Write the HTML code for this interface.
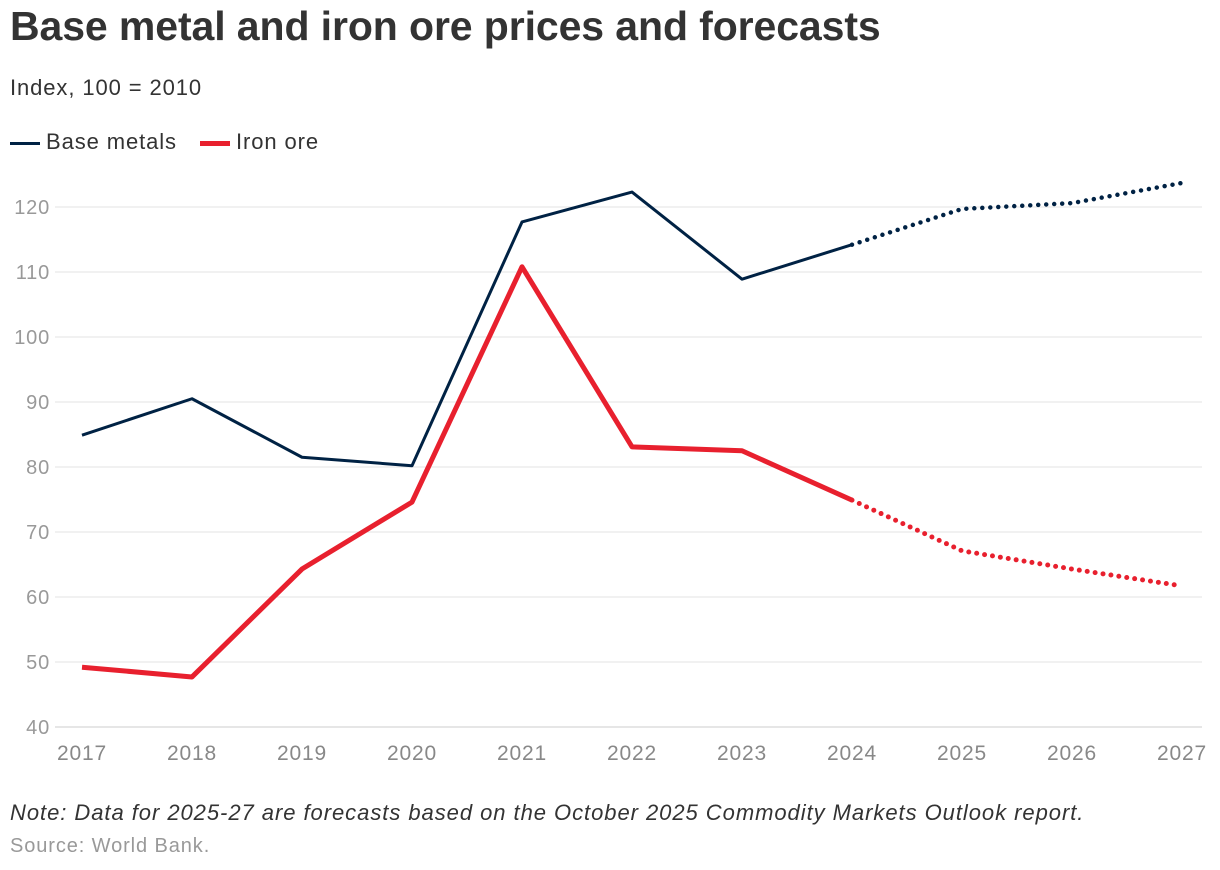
<!DOCTYPE html>
<html><head><meta charset="utf-8"><style>
body{margin:0;width:1220px;height:870px;background:#fff;font-family:"Liberation Sans",sans-serif;overflow:hidden;position:relative}
.t{position:absolute;left:10px;white-space:nowrap}
</style></head><body>
<div class="t" style="top:3px;font-size:41px;color:#333;letter-spacing:-0.1px;font-weight:bold">Base metal and iron ore prices and forecasts</div>
<div class="t" style="top:75px;font-size:22px;color:#333;letter-spacing:0.9px">Index, 100 = 2010</div>
<div class="t" style="top:129px;font-size:22px;color:#333;letter-spacing:0.9px">
<span><span style="display:inline-block;width:30px;height:3px;background:#002244;vertical-align:middle;margin-right:6px"></span>Base metals</span>
<span style="margin-left:16px"><span style="display:inline-block;width:30px;height:5px;background:#e8202e;vertical-align:middle;margin-right:6px"></span>Iron ore</span>
</div>
<div class="t" style="top:800px;font-size:22px;color:#333;font-style:italic;letter-spacing:0.95px">Note: Data for 2025-27 are forecasts based on the October 2025 Commodity Markets Outlook report.</div>
<div class="t" style="top:835px;font-size:20px;color:#999;letter-spacing:0.9px">Source: World Bank.</div>
<svg id="chart" width="1220" height="870" style="position:absolute;left:0;top:0"></svg>
<script>
const years=[2017,2018,2019,2020,2021,2022,2023,2024,2025,2026,2027];
const baseMetals=[84.9,90.5,81.5,80.2,117.7,122.3,108.9,114.2,119.7,120.6,123.7];
const ironOre=[49.2,47.7,64.3,74.6,110.8,83.1,82.5,74.9,67.1,64.3,61.7];
const yTicks=[40,50,60,70,80,90,100,110,120];
const forecastStart=2024;
const NS="http://www.w3.org/2000/svg";
const svg=document.getElementById('chart');
const x=v=>82+(v-2017)*110;
const y=v=>727-(v-40)*6.5;
function mk(t,a){const e=document.createElementNS(NS,t);for(const k in a)e.setAttribute(k,a[k]);svg.appendChild(e);return e;}
yTicks.forEach(v=>{
  const l=mk('line',{x1:55,x2:1202,y1:y(v),y2:y(v),stroke:v===40?'#ccc':'#e3e3e3','stroke-width':1});
  
  
  const t=mk('text',{x:50,y:y(v)+7,'text-anchor':'end','font-size':20,fill:'#999','letter-spacing':'0.8','font-family':'Liberation Sans, sans-serif'});
  t.textContent=v;
  
  
});
years.forEach(yr=>{
  const t=mk('text',{x:x(yr),y:760,'text-anchor':'middle','font-size':21,fill:'#888','letter-spacing':'0.8','font-family':'Liberation Sans, sans-serif'});
  t.textContent=yr;
  
  
});
function series(vals,color,w,dw,name){
  const solid=[],dot=[];
  years.forEach((yr,i)=>{const p=x(yr)+','+y(vals[i]);if(yr<=forecastStart)solid.push(p);if(yr>=forecastStart)dot.push(p);});
  const a=mk('polyline',{points:solid.join(' '),fill:'none',stroke:color,'stroke-width':w,'stroke-linejoin':'round'});
  
  
  const b=mk('polyline',{points:dot.join(' '),fill:'none',stroke:color,'stroke-width':dw,'stroke-dasharray':'0 8','stroke-linecap':'round'});
  
  
}
series(ironOre,'#e8202e',5,5,'iron-ore');
series(baseMetals,'#002244',3,4.5,'base-metals');
</script>
</body></html>
